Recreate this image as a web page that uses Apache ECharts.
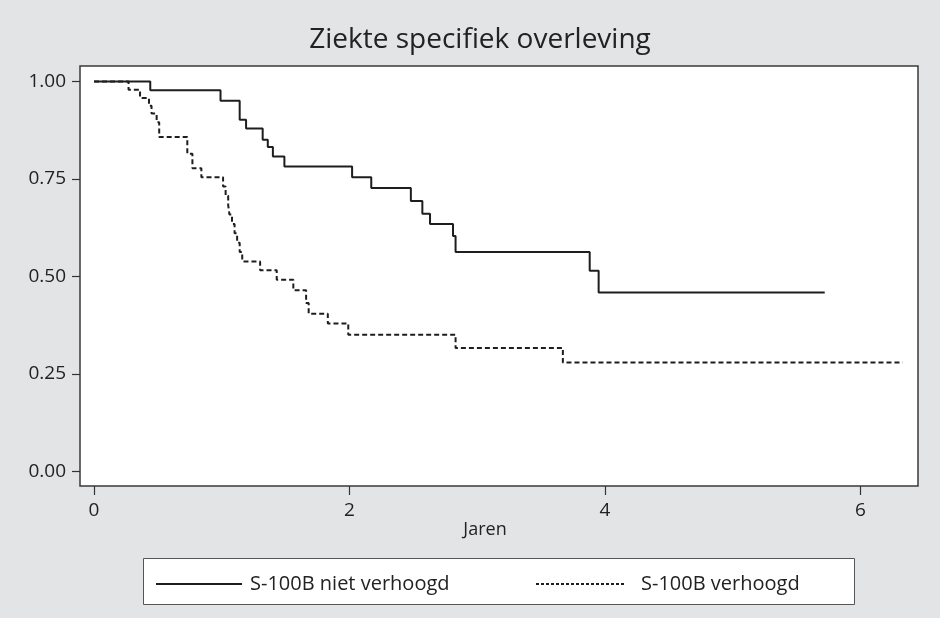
<!DOCTYPE html>
<html>
<head>
<meta charset="utf-8">
<title>Ziekte specifiek overleving</title>
<script src="https://cdn.jsdelivr.net/npm/echarts@6/dist/echarts.min.js"></script>
<style>
  html, body { margin: 0; padding: 0; background: #e3e4e6; }
  #chart { width: 940px; height: 618px; }
</style>
</head>
<body>
<div id="chart"></div>
<script>
// Kaplan-Meier estimates: each survival value holds from its time (years) onward
const seriesNames = ['S-100B niet verhoogd', 'S-100B verhoogd'];

const nietTijd = [0, 0.44, 0.99, 1.14, 1.19, 1.32, 1.36, 1.40, 1.49, 2.02, 2.17, 2.48, 2.57, 2.63, 2.81, 2.83, 3.88, 3.95, 5.72];
const nietOverleving = [1.0, 0.978, 0.951, 0.902, 0.880, 0.851, 0.832, 0.808, 0.782, 0.755, 0.727, 0.694, 0.661, 0.635, 0.604, 0.563, 0.515, 0.459, 0.459];

const verhoogdTijd = [0, 0.27, 0.36, 0.43, 0.45, 0.49, 0.51, 0.73, 0.77, 0.84,
  1.01, 1.03, 1.05, 1.06, 1.08, 1.10, 1.12, 1.14, 1.16,
  1.30, 1.43, 1.56, 1.66, 1.68, 1.83, 1.99, 2.83, 3.67, 6.33];
const verhoogdOverleving = [1.0, 0.979, 0.958, 0.938, 0.918, 0.896, 0.858, 0.815, 0.778, 0.755,
  0.731, 0.707, 0.683, 0.659, 0.635, 0.611, 0.587, 0.563, 0.539,
  0.516, 0.492, 0.465, 0.432, 0.405, 0.380, 0.351, 0.317, 0.280, 0.280];

const xTicks = [0, 2, 4, 6];
const yTicks = [0, 0.25, 0.5, 0.75, 1];

const pair = (xs, ys) => xs.map((x, i) => [x, ys[i]]);

const textColor = '#222';
const lineColor = '#1e1e1e';
const fontFamily = "'Open Sans', 'Noto Sans', sans-serif";

const chart = echarts.init(document.getElementById('chart'), null, { renderer: 'canvas' });

chart.setOption({
  backgroundColor: '#e3e4e6',
  animation: false,
  title: {
    text: 'Ziekte specifiek overleving',
    left: 475,
    top: 21,
    textAlign: 'center',
    textStyle: { fontFamily, fontSize: 28, fontWeight: 'normal', color: textColor }
  },
  grid: {
    left: 80, right: 22, top: 66, bottom: 132,
    show: true, backgroundColor: '#ffffff', borderColor: '#3a3a3a', borderWidth: 1.5
  },
  xAxis: {
    type: 'value',
    min: -0.110, max: 6.450,
    axisLine: { show: false, onZero: false },
    splitLine: { show: false },
    axisTick: { show: true, length: 9, customValues: xTicks, lineStyle: { color: '#333', width: 1.2 } },
    axisLabel: { customValues: xTicks, margin: 15, fontFamily, fontSize: 19, color: textColor }
  },
  yAxis: {
    type: 'value',
    min: -0.037, max: 1.040,
    axisLine: { show: false, onZero: false },
    splitLine: { show: false },
    axisTick: { show: true, length: 8, customValues: yTicks, lineStyle: { color: '#333', width: 1.2 } },
    axisLabel: {
      customValues: yTicks, margin: 14, fontFamily, fontSize: 19, color: textColor,
      formatter: v => v.toFixed(2)
    }
  },
  graphic: [
    {
      type: 'text', x: 485, y: 530, z: 5,
      style: { text: 'Jaren', fontFamily, fontSize: 18, fill: textColor, align: 'center', verticalAlign: 'middle' }
    },
    {
      type: 'rect', z: 1,
      shape: { x: 143.5, y: 558.5, width: 711, height: 46 },
      style: { fill: '#ffffff', stroke: '#555', lineWidth: 1 }
    }
  ],
  legend: [
    {
      data: [seriesNames[0]], left: 155, top: 574, padding: 0, z: 10,
      itemWidth: 86, itemHeight: 14,
      itemStyle: { opacity: 0 },
      textStyle: { fontFamily, fontSize: 20, color: textColor, padding: [0, 0, 0, 3] }
    },
    {
      data: [seriesNames[1]], left: 535, top: 574, padding: 0, z: 10,
      itemWidth: 88, itemHeight: 14,
      itemStyle: { opacity: 0 },
      lineStyle: { type: [3, 2] },
      textStyle: { fontFamily, fontSize: 20, color: textColor, padding: [0, 0, 0, 12] }
    }
  ],
  series: [
    {
      name: seriesNames[0], type: 'line', step: 'end', symbol: 'none',
      data: pair(nietTijd, nietOverleving),
      lineStyle: { color: lineColor, width: 2, type: 'solid' },
      itemStyle: { color: lineColor }
    },
    {
      name: seriesNames[1], type: 'line', step: 'end', symbol: 'none',
      data: pair(verhoogdTijd, verhoogdOverleving),
      lineStyle: { color: lineColor, width: 2, type: [5, 3] },
      itemStyle: { color: lineColor }
    }
  ]
});
</script>
</body>
</html>
